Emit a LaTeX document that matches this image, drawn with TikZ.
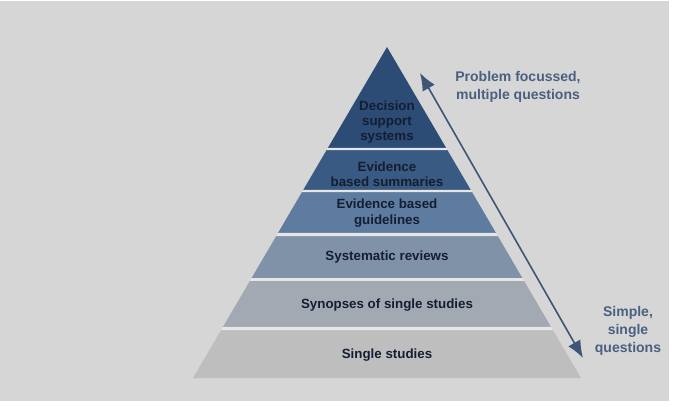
\documentclass[tikz,border=0pt]{standalone}
\usepackage{fontspec}
\setmainfont{Liberation Sans}
\usetikzlibrary{arrows.meta,calc}
\definecolor{bggray}{RGB}{214,214,214}
\definecolor{gapgray}{RGB}{230,230,230}
\definecolor{levelA}{RGB}{44,75,117}
\definecolor{levelB}{RGB}{57,90,130}
\definecolor{levelC}{RGB}{94,123,160}
\definecolor{levelD}{RGB}{128,146,168}
\definecolor{levelE}{RGB}{162,169,178}
\definecolor{levelF}{RGB}{190,190,190}
\definecolor{textnavy}{RGB}{20,30,50}
\definecolor{arrowblue}{RGB}{62,85,117}
\definecolor{notegray}{RGB}{74,96,128}

\begin{document}
\begin{tikzpicture}[x=0.75pt, y=-0.75pt,
        >={Latex[length=13pt,width=10.5pt]},
        lvl/.style={font=\bfseries\fontsize{10}{11.5}\selectfont, text=textnavy, align=center, inner sep=1pt},
        note/.style={font=\bfseries\fontsize{10.5}{13.5}\selectfont, text=notegray, align=center, inner sep=1pt}]
        % Hintergrund
        \useasboundingbox (0,0) rectangle (676,407);
        \fill[white] (0,0) rectangle (676,407);
        \fill[bggray] (0,1) rectangle (669,401);
        % Eckpunkte der Pyramide
        \coordinate (top) at (387,47);
        \coordinate (bl) at (193,378);
        \coordinate (br) at (581,378);
        % Stufen zeichnen
        \foreach \ft/\fb/\col in {0/0.3051/levelA, 0.3112/0.4320/levelB, 0.4381/0.5619/levelC,
                0.5710/0.6979/levelD, 0.7069/0.8459/levelE, 0.8550/1/levelF}
            \fill[\col] ($(top)!\ft!(bl)$) -- ($(top)!\ft!(br)$) -- ($(top)!\fb!(br)$) -- ($(top)!\fb!(bl)$) -- cycle;
        % Fugen zwischen den Stufen
        \foreach \ft/\fb in {0.3051/0.3112, 0.4320/0.4381, 0.5619/0.5710, 0.6979/0.7069, 0.8459/0.8550}
            \fill[gapgray] ($(top)!\ft!(bl)$) -- ($(top)!\ft!(br)$) -- ($(top)!\fb!(br)$) -- ($(top)!\fb!(bl)$) -- cycle;
        % Beschriftung der Stufen
        \node[lvl] (dss) at (387,122) {Decision\\support\\systems};
        \node[lvl] (summaries) at (387,174) {Evidence\\based summaries};
        \node[lvl] (guidelines) at (387,213) {Evidence based\\guidelines};
        \node[lvl] (reviews) at (387,257) {Systematic reviews};
        \node[lvl] (synopses) at (387,305) {Synopses of single studies};
        \node[lvl] (studies) at (387,355) {Single studies};
        % Pfeil
        \coordinate (up) at (420,73);
        \coordinate (down) at (583,358);
        \draw[<->, arrowblue, line width=1.2pt] (up) -- (down);
        % Hinweise rechts
        \node[note] (focus) at (518,87) {Problem focussed,\\multiple questions};
        \node[note] (simple) at (628,331) {Simple,\\single\\questions};
    \end{tikzpicture}
\end{document}
